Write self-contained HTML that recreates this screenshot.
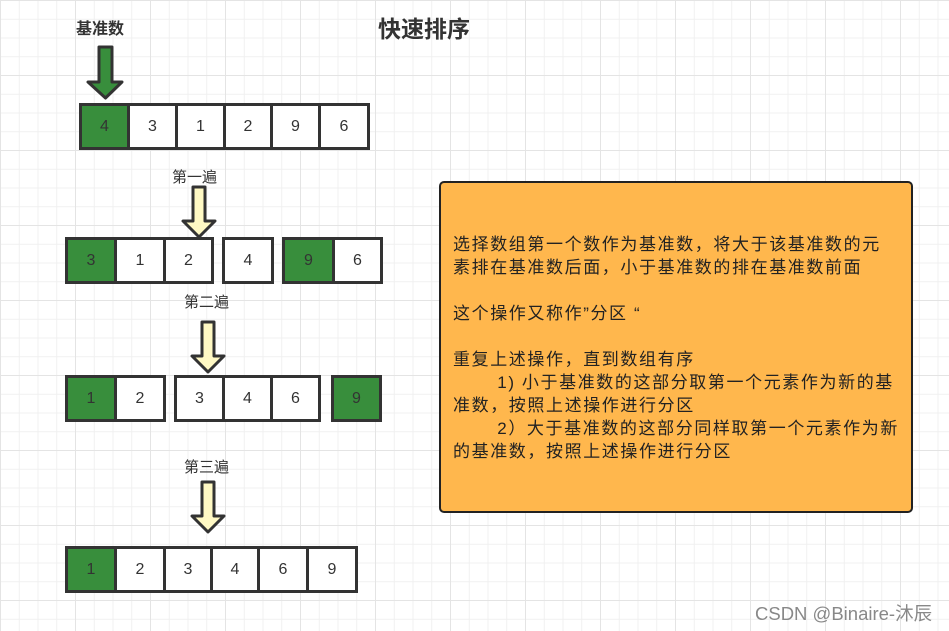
<!DOCTYPE html>
<html><head><meta charset="utf-8"><style>
body{margin:0;width:949px;height:631px;overflow:hidden;background:#fff;position:relative;
font-family:"Liberation Sans","Noto Sans CJK SC",sans-serif;
background-image:
linear-gradient(#e4e4e4 1px,transparent 1px),linear-gradient(90deg,#e4e4e4 1px,transparent 1px),
linear-gradient(#f0f0f0 1px,transparent 1px),linear-gradient(90deg,#f0f0f0 1px,transparent 1px);
background-size:75px 75px,75px 75px,18.75px 18.75px,18.75px 18.75px;}
.c{position:absolute;box-sizing:border-box;border:3px solid #333;background:#fff;color:#333;font-size:16px;display:flex;align-items:center;justify-content:center;height:47px}
.g{background:#388e3c}
.t{position:absolute;color:#333;font-size:15px;white-space:nowrap}
svg{position:absolute;left:0;top:0}
</style></head><body>
<div class="t" style="left:378px;top:10px;font-size:23px;font-weight:bold">快速排序</div>
<div class="t" style="left:76px;top:15px;font-weight:bold;font-size:16px">基准数</div>
<div class="t" style="left:172px;top:166px">第一遍</div>
<div class="t" style="left:184px;top:291px">第二遍</div>
<div class="t" style="left:184px;top:456px">第三遍</div>
<svg width="949" height="631">
<polygon points="99,47 112,47 112,82 122,82 105.5,98 88,82 99,82" fill="#388e3c" stroke="#333" stroke-width="3" stroke-linejoin="round"/>
<polygon points="193,187 205,187 205,221 215,221 199,237 183,221 193,221" fill="#fff9c4" stroke="#333" stroke-width="3" stroke-linejoin="round"/>
<polygon points="202,322 214,322 214,356 224,356 208,372 192,356 202,356" fill="#fff9c4" stroke="#333" stroke-width="3" stroke-linejoin="round"/>
<polygon points="202,482 214,482 214,516 224,516 208,532 192,516 202,516" fill="#fff9c4" stroke="#333" stroke-width="3" stroke-linejoin="round"/>
</svg>
<div class="c g" style="left:79px;top:103px;width:51px">4</div>
<div class="c" style="left:127px;top:103px;width:51px">3</div>
<div class="c" style="left:175px;top:103px;width:51px">1</div>
<div class="c" style="left:223px;top:103px;width:50px">2</div>
<div class="c" style="left:270px;top:103px;width:51px">9</div>
<div class="c" style="left:318px;top:103px;width:52px">6</div>

<div class="c g" style="left:65px;top:237px;width:52px">3</div>
<div class="c" style="left:114px;top:237px;width:52px">1</div>
<div class="c" style="left:163px;top:237px;width:51px">2</div>
<div class="c" style="left:222px;top:237px;width:52px">4</div>
<div class="c g" style="left:282px;top:237px;width:53px">9</div>
<div class="c" style="left:332px;top:237px;width:51px">6</div>

<div class="c g" style="left:65px;top:375px;width:52px">1</div>
<div class="c" style="left:114px;top:375px;width:52px">2</div>
<div class="c" style="left:174px;top:375px;width:51px">3</div>
<div class="c" style="left:222px;top:375px;width:51px">4</div>
<div class="c" style="left:270px;top:375px;width:51px">6</div>
<div class="c g" style="left:331px;top:375px;width:51px">9</div>

<div class="c g" style="left:65px;top:546px;width:52px">1</div>
<div class="c" style="left:114px;top:546px;width:52px">2</div>
<div class="c" style="left:163px;top:546px;width:50px">3</div>
<div class="c" style="left:210px;top:546px;width:50px">4</div>
<div class="c" style="left:257px;top:546px;width:52px">6</div>
<div class="c" style="left:306px;top:546px;width:52px">9</div>

<div style="position:absolute;left:439px;top:181px;width:474px;height:332px;box-sizing:border-box;border:2px solid #222;border-radius:5px;background:#ffb74d"></div>
<div class="t" style="left:453px;top:233px;font-size:17px;line-height:23px;letter-spacing:1.6px;color:#222;white-space:pre">选择数组第一个数作为基准数，将大于该基准数的元
素排在基准数后面，小于基准数的排在基准数前面

这个操作又称作”分区 “

重复上述操作，直到数组有序
       1) 小于基准数的这部分取第一个元素作为新的基
准数，按照上述操作进行分区
       2）大于基准数的这部分同样取第一个元素作为新
的基准数，按照上述操作进行分区</div>
<div class="t" style="left:755px;top:600px;font-size:18.5px;color:#888">CSDN @Binaire-沐辰</div>
</body></html>
